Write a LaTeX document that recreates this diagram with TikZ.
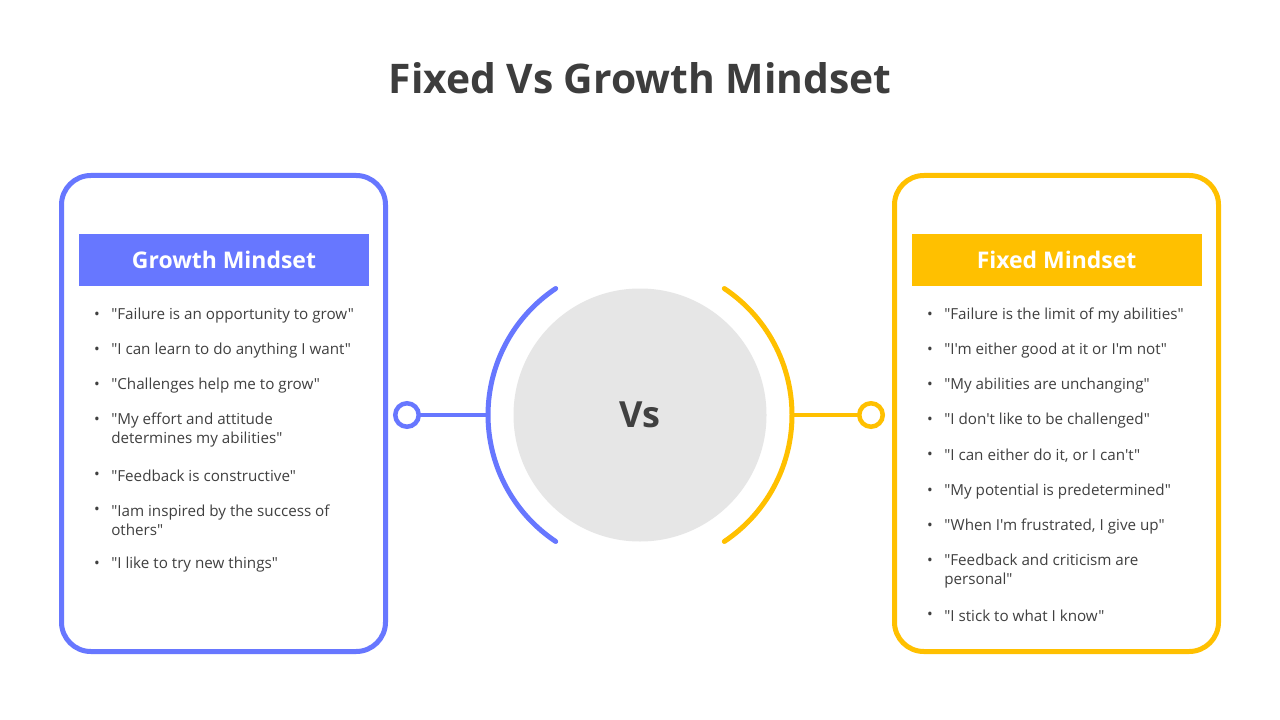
\documentclass[tikz,border=0pt]{standalone}
\usepackage{fontspec}
\setmainfont{Open Sans}[Ligatures=TeXOff]
\usetikzlibrary{positioning}
\definecolor{growthblue}{HTML}{6777FF}
\definecolor{fixedgold}{HTML}{FFC000}
\definecolor{inkgray}{HTML}{404040}
\definecolor{discgray}{HTML}{E6E6E6}

\begin{document}
\begin{tikzpicture}[
  x=0.75pt, y=-0.75pt,
  font=\fontsize{11.4}{14.25}\selectfont, text=inkgray,
  frame/.style={line width=3.75pt, rounded corners=22pt},
  head/.style={minimum width=217.5pt, minimum height=39pt, inner sep=0pt,
               text=white, font=\fontsize{17.2}{20}\selectfont\bfseries},
  item/.style={anchor=west, align=left, inner sep=0pt},
  dot/.style={anchor=center, inner sep=0pt},
  ring/.style={circle, line width=3.4pt, minimum size=17.6pt,
               inner sep=0pt, fill=white},
  link/.style={line width=3pt},
  bow/.style={line width=3.75pt, line cap=round}
]
\useasboundingbox[fill=white] (0,0) rectangle (1280,720);

% ---- title ----
\node[font=\fontsize{30.6}{36}\selectfont\bfseries, text=inkgray!95!black] (title) at (640,78)
  {Fixed Vs Growth Mindset};

% ---- centre ----
\node[circle, fill=discgray, minimum size=189.75pt, inner sep=0pt,
      font=\fontsize{27}{30}\selectfont\bfseries] (vs) at (640,415) {Vs};
\draw[bow, growthblue] (vs.center) ++(123.7:114pt)
  arc[start angle=123.7, end angle=236.3, radius=114pt];
\draw[bow, fixedgold] (vs.center) ++(56.3:114pt)
  arc[start angle=56.3, end angle=-56.3, radius=114pt];
\coordinate (bowL) at (488,415);
\coordinate (bowR) at (792,415);
\draw[link, growthblue] (bowL) -- (407,415);
\draw[link, fixedgold]  (bowR) -- (871,415);
\node[ring, draw=growthblue] (ringL) at (407,415) {};
\node[ring, draw=fixedgold]  (ringR) at (871,415) {};

% ---- growth panel ----
\draw[frame, growthblue] (61.5,175.5) rectangle (385.5,651.5);
\node[head, fill=growthblue] (ghead) at (224,260) {Growth Mindset};
\node[dot] at (97,316) {•};
\node[item] (g1) at (111,316) {"Failure is an opportunity to grow"};
\node[dot] at (97,351) {•};
\node[item] (g2) at (111,351) {"I can learn to do anything I want"};
\node[dot] at (97,386) {•};
\node[item] (g3) at (111,386) {"Challenges help me to grow"};
\node[dot] at (97,421) {•};
\node[item] (g4) at (111,430.5) {"My effort and attitude\\determines my abilities"};
\node[dot] at (97,476) {•};
\node[item] (g5) at (111,476) {"Feedback is constructive"};
\node[dot] at (97,511) {•};
\node[item] (g6) at (111,520.5) {"Iam inspired by the success of\\others"};
\node[dot] at (97,565) {•};
\node[item] (g7) at (111,565) {"I like to try new things"};

% ---- fixed panel ----
\draw[frame, fixedgold] (894.5,175.5) rectangle (1218.5,651.5);
\node[head, fill=fixedgold] (fhead) at (1056.5,260) {Fixed Mindset};
\node[dot] at (930,316) {•};
\node[item] (f1) at (944,316) {"Failure is the limit of my abilities"};
\node[dot] at (930,351) {•};
\node[item] (f2) at (944,351) {"I'm either good at it or I'm not"};
\node[dot] at (930,386) {•};
\node[item] (f3) at (944,386) {"My abilities are unchanging"};
\node[dot] at (930,421) {•};
\node[item] (f4) at (944,421) {"I don't like to be challenged"};
\node[dot] at (930,456) {•};
\node[item] (f5) at (944,456) {"I can either do it, or I can't"};
\node[dot] at (930,492) {•};
\node[item] (f6) at (944,492) {"My potential is predetermined"};
\node[dot] at (930,527) {•};
\node[item] (f7) at (944,527) {"When I'm frustrated, I give up"};
\node[dot] at (930,562) {•};
\node[item] (f8) at (944,571.5) {"Feedback and criticism are\\personal"};
\node[dot] at (930,616) {•};
\node[item] (f9) at (944,616) {"I stick to what I know"};
\end{tikzpicture}
\end{document}
